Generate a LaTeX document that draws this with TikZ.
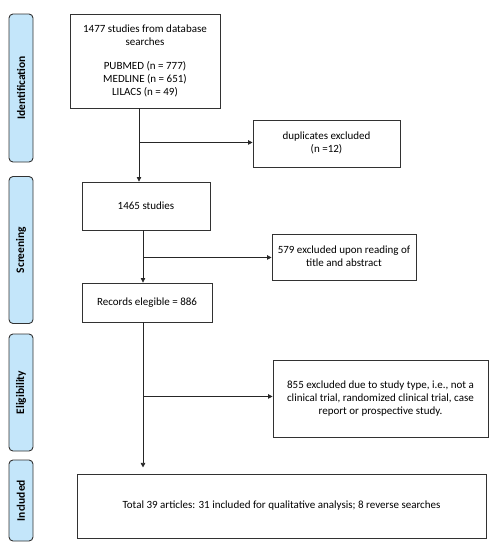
\documentclass[tikz,border=0pt]{standalone}
\usepackage{fontspec}
\setmainfont{Carlito}
\usetikzlibrary{arrows.meta,calc}
\definecolor{sidefill}{RGB}{196,230,250}
\definecolor{boxline}{RGB}{50,50,50}
\begin{document}
\begin{tikzpicture}[x=1pt,y=-1pt,
  box/.style={draw=boxline,line width=0.9pt,fill=white,align=center,inner sep=2pt,font=\fontsize{11}{13}\selectfont},
  side/.style={draw=boxline,line width=0.9pt,fill=sidefill,rounded corners=4pt,font=\bfseries\fontsize{11.5}{13}\selectfont},
  arr/.style={draw=black!85,line width=0.7pt,-{Triangle[length=4.5pt,width=4.5pt]}}]
\useasboundingbox (0,0) rectangle (498,550);
% side labels
\node[side,minimum width=148pt,minimum height=24pt,rotate=90] (sid) at (21,88) {Identification};
\node[side,minimum width=147pt,minimum height=24pt,rotate=90] (sscr) at (21,250) {Screening};
\node[side,minimum width=117pt,minimum height=24pt,rotate=90] (self) at (21,392.5) {Eligibility};
\node[side,minimum width=81pt,minimum height=24pt,rotate=90] (sinc) at (21,500.5) {Included};
% boxes
\node[box,minimum width=150pt,minimum height=94pt] (b1) at (145,61)
  {1477 studies from database\\searches\\[11pt]PUBMED (n = 777)\\MEDLINE (n = 651)\\LILACS (n = 49)};
\node[box,minimum width=147pt,minimum height=47pt] (dup) at (326.5,143.5)
  {\raisebox{3pt}{\begin{tabular}{@{}c@{}}duplicates excluded\\(n =12)\end{tabular}}};
\node[box,minimum width=128pt,minimum height=48pt] (b2) at (146,206) {1465 studies};
\node[box,minimum width=144pt,minimum height=46pt] (ex1) at (344,257)
  {\raisebox{3pt}{\begin{tabular}{@{}c@{}}579 excluded upon reading of\\title and abstract\end{tabular}}};
\node[box,minimum width=130pt,minimum height=39pt] (b3) at (147,302.5) {Records elegible = 886};
\node[box,minimum width=215pt,minimum height=77pt] (ex2) at (380.5,398.5)
  {855 excluded due to study type, i.e., not a\\clinical trial, randomized clinical trial, case\\report or prospective study.};
\node[box,minimum width=409pt,minimum height=64pt] (b4) at (281.5,506)
  {\raisebox{-7pt}{Total 39 articles: 31 included for qualitative analysis; 8 reverse searches}};
% connector coordinates
\coordinate (t1) at ($(b1.south)+(-6,0)$);
\coordinate (j1) at ($(t1)+(0,34)$);
\coordinate (t2) at ($(b2.south)+(-3,0)$);
\coordinate (j2) at ($(t2)+(0,27)$);
\coordinate (t3) at ($(b3.south)+(-4,0)$);
\coordinate (j3) at ($(t3)+(0,74)$);
\coordinate (e3) at ($(t3)+(0,145)$);
% connectors
\draw[arr] (t1) -- (t1 |- b2.north);
\draw[arr] (j1) -- (j1 -| dup.west);
\draw[arr] (t2) -- (t2 |- b3.north);
\draw[arr] (j2) -- (j2 -| ex1.west);
\draw[arr] (t3) -- (e3);
\draw[arr] (j3) -- (j3 -| ex2.west);
\end{tikzpicture}
\end{document}
